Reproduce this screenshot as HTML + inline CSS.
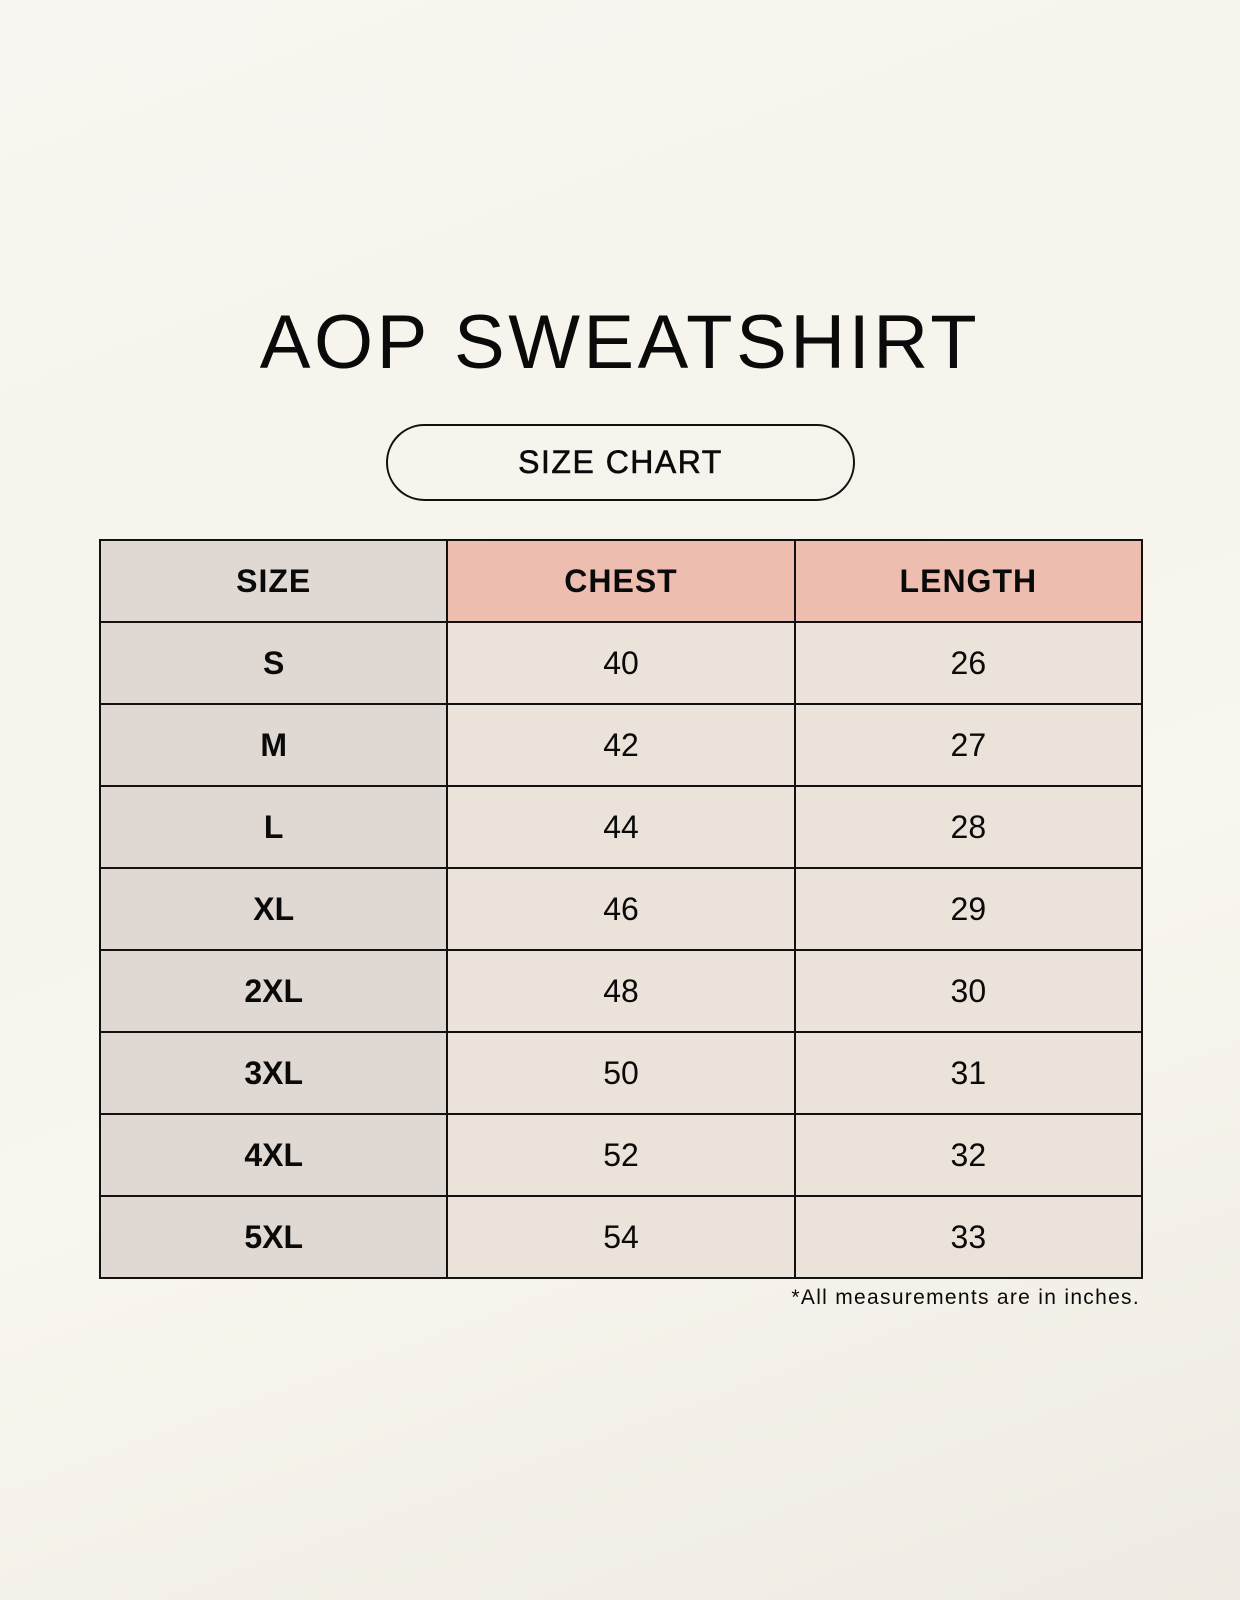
<!DOCTYPE html>
<html><head><style>
html,body{margin:0;padding:0}
body{width:1240px;height:1600px;position:relative;overflow:hidden;
background:linear-gradient(160deg,#f8f6f0 0%,#f6f3ec 40%,#f9f6ef 60%,#efebe4 100%);
font-family:"Liberation Sans",sans-serif;color:#0a0a0a}
.title{position:absolute;left:0;width:1240px;top:298px;text-align:center;font-size:76px;letter-spacing:3.5px;line-height:90px}
.pill{position:absolute;left:386px;top:424px;width:469px;height:77px;border:2px solid #111;border-radius:40px;box-sizing:border-box;text-align:center;line-height:73px;font-size:32px;letter-spacing:1.5px;-webkit-text-stroke:0.6px #111}
table{position:absolute;left:99px;top:539px;width:1044px;border-collapse:collapse;table-layout:fixed}
tr{height:82px}
td{border:2px solid #111;text-align:center;font-size:32px;padding:0}
td.s{background:#e0d9d3;font-weight:bold}
td.v{background:#ebe3d9}
td.h{background:#edbdb0;font-weight:bold;letter-spacing:1px}
tr.hd td.s{letter-spacing:1px}
.note{position:absolute;right:100px;top:1286px;font-size:21px;letter-spacing:1.3px}
</style></head><body>
<div class="title">AOP SWEATSHIRT</div>
<div class="pill">SIZE CHART</div>
<table>
<tr class="hd"><td class="s">SIZE</td><td class="h">CHEST</td><td class="h">LENGTH</td></tr>
<tr><td class="s">S</td><td class="v">40</td><td class="v">26</td></tr>
<tr><td class="s">M</td><td class="v">42</td><td class="v">27</td></tr>
<tr><td class="s">L</td><td class="v">44</td><td class="v">28</td></tr>
<tr><td class="s">XL</td><td class="v">46</td><td class="v">29</td></tr>
<tr><td class="s">2XL</td><td class="v">48</td><td class="v">30</td></tr>
<tr><td class="s">3XL</td><td class="v">50</td><td class="v">31</td></tr>
<tr><td class="s">4XL</td><td class="v">52</td><td class="v">32</td></tr>
<tr><td class="s">5XL</td><td class="v">54</td><td class="v">33</td></tr>
</table>
<div class="note">*All measurements are in inches.</div>
</body></html>
